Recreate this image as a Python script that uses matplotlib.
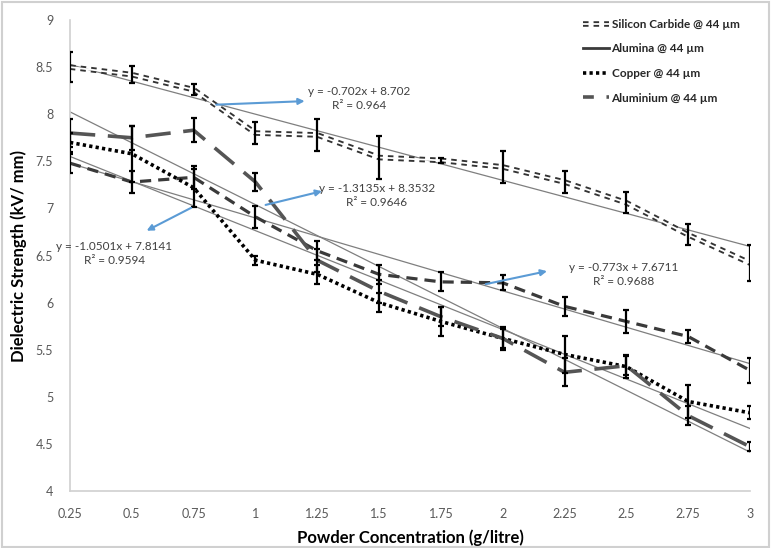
import numpy as np
import matplotlib.pyplot as plt
from matplotlib.lines import Line2D
from matplotlib.legend_handler import HandlerTuple

plt.rcParams['font.family'] = ['Lato', 'DejaVu Sans']

conc = [0.25, 0.5, 0.75, 1.0, 1.25, 1.5, 1.75, 2.0, 2.25, 2.5, 2.75, 3.0]
tick_labels = ['0.25', '0.5', '0.75', '1', '1.25', '1.5', '1.75', '2', '2.25', '2.5', '2.75', '3']

sic = [8.50, 8.42, 8.26, 7.80, 7.78, 7.54, 7.51, 7.44, 7.28, 7.06, 6.72, 6.42]
sic_err = [0.16, 0.09, 0.06, 0.12, 0.17, 0.23, 0.03, 0.17, 0.12, 0.11, 0.11, 0.19]

alumina = [7.48, 7.28, 7.33, 6.91, 6.55, 6.30, 6.22, 6.21, 5.96, 5.80, 5.64, 5.28]
alumina_err = [0.10, 0.12, 0.12, 0.12, 0.10, 0.10, 0.10, 0.08, 0.10, 0.12, 0.07, 0.13]

copper = [7.70, 7.58, 7.22, 6.45, 6.30, 6.00, 5.80, 5.62, 5.45, 5.32, 4.95, 4.83]
copper_err = [0.10, 0.30, 0.20, 0.05, 0.10, 0.10, 0.15, 0.10, 0.20, 0.12, 0.18, 0.07]

aluminium = [7.80, 7.75, 7.83, 7.28, 6.45, 6.12, 5.85, 5.62, 5.26, 5.33, 4.80, 4.47]
aluminium_err = [0.15, 0.13, 0.13, 0.10, 0.12, 0.12, 0.10, 0.12, 0.15, 0.10, 0.10, 0.05]

# linear trend lines (slope, intercept, R^2)
trend_sic = (-0.702, 8.702, 0.964)
trend_alumina = (-0.773, 7.6711, 0.9688)
trend_copper = (-1.0501, 7.8141, 0.9594)
trend_aluminium = (-1.3135, 8.3532, 0.9646)

fig = plt.figure(figsize=(7.71, 5.48), dpi=100)
ax = fig.add_axes([0.0908, 0.104, 0.882, 0.8595])

x = np.array(conc)
err_kw = dict(fmt='none', ecolor='black', elinewidth=1.6, capsize=2.5, capthick=1.6, zorder=4)

# trend lines
for slope, icpt, r2 in [trend_sic, trend_alumina, trend_copper, trend_aluminium]:
    ax.plot(x, slope * x + icpt, color='#7f7f7f', lw=0.9, zorder=2)

# silicon carbide: double dashed line
ax.plot(x, sic, color='#333333', lw=4.0, dashes=(1.0, 0.9), zorder=3)
ax.plot(x, sic, color='white', lw=1.3, zorder=3.1)
ax.errorbar(x, sic, yerr=sic_err, **err_kw)

ax.plot(x, alumina, color='#3a3a3a', lw=2.3, dashes=(3.5, 2.2), zorder=3)
ax.errorbar(x, alumina, yerr=alumina_err, **err_kw)

ax.plot(x, copper, color='black', lw=2.6, dashes=(0.9, 0.9), zorder=3)
ax.errorbar(x, copper, yerr=copper_err, **err_kw)

ax.plot(x, aluminium, color='#555555', lw=2.6, dashes=(7, 3.5), zorder=3)
ax.errorbar(x, aluminium, yerr=aluminium_err, **err_kw)

ax.set_xlim(0.25, 3.0)
ax.set_ylim(4, 9)
ax.set_xticks(conc)
ax.set_xticklabels(tick_labels)
ax.set_yticks(np.arange(4, 9.01, 0.5))
ax.set_yticklabels(['4', '4.5', '5', '5.5', '6', '6.5', '7', '7.5', '8', '8.5', '9'])
ax.tick_params(length=0, labelsize=9, colors='#595959', pad=12)
for s in ['top', 'right']:
    ax.spines[s].set_visible(False)
for s in ['left', 'bottom']:
    ax.spines[s].set_color('#d0d0d0')
    ax.spines[s].set_linewidth(1.2)

ax.set_ylabel('Dielectric Strength (kV/ mm)', fontsize=12, fontweight='bold', labelpad=6)
ax.set_xlabel('Powder Concentration (g/litre)', fontsize=12, fontweight='bold', labelpad=7)

# equation labels with blue arrows
blue = '#5b9bd5'
arr = dict(arrowstyle='-|>', color=blue, lw=1.5, mutation_scale=9)
notes = [
    (trend_sic, (0.83, 8.10), (1.21, 8.14), (1.42, 8.17)),
    (trend_aluminium, (1.03, 7.03), (1.28, 7.19), (1.49, 7.14)),
    (trend_copper, (0.75, 7.02), (0.55, 6.75), (0.43, 6.52)),
    (trend_alumina, (1.92, 6.19), (2.19, 6.34), (2.49, 6.30)),
]
for (slope, icpt, r2), start, end, txt in notes:
    ax.annotate('', xy=end, xytext=start, arrowprops=arr, zorder=5)
    ax.text(txt[0], txt[1], 'y = %sx + %s\nR² = %s' % (slope, icpt, r2),
            ha='center', va='center', fontsize=8.5, color='#404040',
            linespacing=1.35, zorder=5)

# legend
h_sic = (Line2D([], [], color='#333333', lw=4.0, dashes=(1.0, 0.9)),
         Line2D([], [], color='white', lw=1.3))
h_alumina = Line2D([], [], color='#3a3a3a', lw=2.0)
h_copper = Line2D([], [], color='black', lw=2.6, dashes=(0.9, 0.9))
h_aluminium = Line2D([], [], color='#555555', lw=2.6, dashes=(3, 3.5))
leg = ax.legend([h_sic, h_alumina, h_copper, h_aluminium],
                ['Silicon Carbide @ 44 µm', 'Alumina @ 44 µm',
                 'Copper @ 44 µm', 'Aluminium @ 44 µm'],
                handler_map={tuple: HandlerTuple(ndivide=1)},
                loc='upper right', bbox_to_anchor=(1.0, 1.025), frameon=False,
                prop={'weight': 'bold', 'size': 8.5}, handlelength=2.2,
                handletextpad=0.2, labelspacing=1.15)
for t in leg.get_texts():
    t.set_color('#262626')

fig.patches.append(plt.Rectangle((0.002, 0.002), 0.996, 0.994, transform=fig.transFigure,
                                 fill=False, edgecolor='#d0d0d0', lw=1.5))

fig.savefig('out.png', dpi=100)
